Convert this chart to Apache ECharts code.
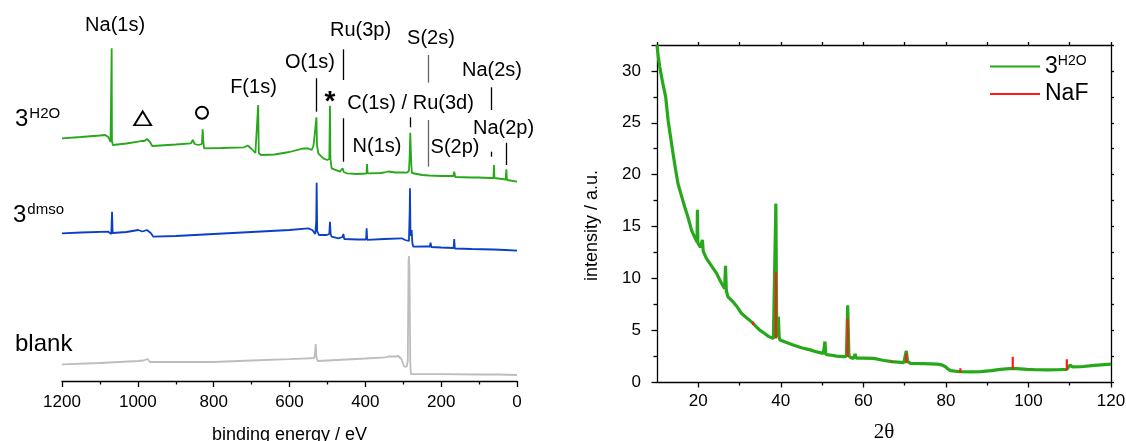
<!DOCTYPE html>
<html><head><meta charset="utf-8">
<script src="https://cdn.jsdelivr.net/npm/echarts@6/dist/echarts.min.js"></script>
<style>html,body{margin:0;padding:0;background:#fff}#c{width:1126px;height:441px}</style>
</head><body><div id="c"></div><script>
// ---------- DATA ----------
// XPS survey spectra: [binding energy (eV), stacked intensity (arb., offset)]
const xpsH2O = [[1200,242.7],[1150,244],[1100,245.5],[1086,246],[1078,244],[1072,239],[1069.6,240],[1069,332.7],[1068.2,240],[1066,236],[1062,236],[1030,237.5],[999,239.3],[992,240],[988,242],[983,240],[976,242],[972.4,243.7],[968,239],[962,235],[900,236.5],[860,237.7],[855,241],[850,237],[840,236],[831,237],[829,251.7],[827,238],[825,232.7],[780,233],[720,233.7],[710,235.5],[700,232],[690,228],[685,227],[682.6,276],[681,228],[675,226],[640,226.5],[600,229],[563.6,232.7],[550,232.5],[541.6,231],[537,235],[535.5,239.3],[532,238],[529,263.7],[527.5,236],[524,227.7],[511,222.7],[500.4,221],[495,222],[493.3,275.3],[492,222],[488.8,212.7],[467,209.3],[462,211],[460,212.7],[457,209],[449.3,207.7],[420,207],[397,207.5],[395.5,217],[394,207.7],[388,207.7],[360,208],[350,208.5],[340,209.5],[320,208.5],[300,208.5],[291,208.3],[285,210],[283,225],[281.5,248.3],[280,230],[278.5,215],[277,208],[273.6,206],[250,206],[232,205.5],[229.6,207],[227,205.5],[200,205],[168,205],[165.6,209.3],[163,204],[120,203.5],[101,203.5],[99.6,205.5],[98,203],[70,203],[62,203],[60.8,216],[59.5,203],[55.5,202.7],[30,201.5],[28,211.7],[26.5,201],[23,200.5],[0,199.3]];
const xpsDmso = [[1200,147.7],[1150,148.5],[1078,149.3],[1070,147],[1068,169.3],[1066.5,148],[1062,147.7],[1030,149],[999,151],[988,149.5],[983,150],[976,151],[972.4,152.7],[966,148],[959,144.3],[900,145],[800,147],[700,149],[600,151],[550.5,152.7],[540,151],[537.3,149.3],[532,147],[529.5,160],[528.4,198.3],[527,150],[522.3,146],[502,146],[495,147],[493.3,159.3],[491.5,147],[488.8,144.3],[471,142.7],[460,144],[458,147],[455.5,142],[453.7,141.7],[420,141.5],[398,141.5],[396.6,152.7],[395,141.2],[392,141],[350,142],[304.3,142.7],[295,141],[291,139],[285,140],[283,170],[282.3,192.7],[281,150],[279.5,145],[277.8,151],[276,138],[273.6,134.3],[240,134.5],[230,134.5],[228,138.3],[226,134],[200,133.5],[167,133],[165.6,142],[164,132.5],[120,132],[62,131.5],[60,133],[58,131],[30,131],[0,130.3]];
const xpsBlank = [[1200,16.7],[1100,18],[999,20],[985,20.5],[974,22],[968,19],[963.5,17],[800,19],[700,20.5],[600,21.8],[550.5,22.7],[535,23],[533,26],[531,37],[529,24],[525.7,20],[450,21.5],[400,22.5],[348,23.7],[340,24.5],[335,23.5],[320,24.5],[313,25],[305,22],[297.4,14.3],[291,14.5],[288,20],[286,120],[285,125],[283.5,110],[281.5,20],[280,7],[200,6.8],[100,6.5],[50,6.5],[0,6]];
// XRD pattern: [2θ, intensity]
const xrdH2O = [[10,32.5],[10.3,31.4],[10.66,30.4],[11.3,29.0],[12.1,27.5],[12.7,25.2],[13.3,23.6],[13.9,22],[14.5,20.5],[15.1,19.1],[15.9,18.0],[16.7,16.9],[17.5,15.9],[18.4,14.6],[19.2,13.9],[19.7,13.5],[19.8,16.6],[19.9,13.4],[20.5,13.0],[20.9,12.9],[21.0,13.7],[21.2,12.6],[22,11.9],[23.2,11.2],[24.4,10.5],[25.4,9.7],[26.4,9.0],[26.6,11.2],[26.8,8.8],[27.2,8.2],[28.5,7.7],[29.5,7.2],[30.5,6.6],[31.7,6.2],[32.9,5.8],[33.9,5.4],[34.9,5.0],[36,4.7],[37,4.4],[38.2,4.2],[38.6,4.3],[38.8,17.2],[39.0,4.6],[39.3,4.4],[39.4,6.3],[39.6,4.3],[39.8,4.05],[41.4,3.8],[43,3.56],[45,3.3],[47.1,3.1],[48.7,2.9],[50.3,2.76],[50.7,3.9],[50.9,2.65],[52,2.6],[53.5,2.5],[55.2,2.44],[55.9,2.5],[56.2,7.4],[56.5,2.5],[57.0,2.35],[57.6,2.28],[58.0,2.7],[58.3,2.3],[60,2.3],[62.5,2.28],[64.7,2.1],[66.9,1.96],[69.8,1.86],[70.2,2.0],[70.4,3.0],[70.7,2.0],[71.4,1.8],[74.5,1.78],[77.9,1.73],[79.0,1.65],[79.9,1.47],[80.5,1.25],[81.1,1.09],[83.5,0.99],[86,0.98],[88.4,1.0],[91,1.1],[93.2,1.22],[96.2,1.32],[99.7,1.22],[102,1.18],[104.6,1.16],[107,1.18],[109.3,1.22],[110.1,1.64],[110.6,1.45],[112.7,1.47],[116,1.6],[120,1.73]];
// NaF reference reflections: [2θ, bottom, top]
const nafPeaks = [[33.3,5.5,5.8],[38.8,4.2,10.6],[56.2,2.4,6.1],[67.0,1.9,2.05],[70.4,1.8,2.76],[83.5,0.9,1.32],[96.2,1.22,2.44],[109.3,1.16,2.19]];
// Tick labels
const xrdMajorTicks = [20,40,60,80,100,120];
const xrdMinorTicks = [30,50,70,90,110];
// Peak assignments: [label, binding energy, level]
const peakLabels = [['Na(1s)',1060,356],['F(1s)',695,293.5],['O(1s)',546,319],['Ru(3p)',412.7,351],['S(2s)',226.8,343],['Na(2s)',66,311],['C(1s) / Ru(3d)',280.9,278],['N(1s)',369.2,235],['S(2p)',163.5,234],['Na(2p)',35.6,253]];
// Marker lines: [binding energy, from, to, grey?]
const peakLines = [[530.1,302.7,269.3,0],[458.1,331.7,301,0],[458.1,262.7,219.3,0],[282.2,263.7,253.7,0],[233,326,298.3,1],[233,261,214.3,1],[66.7,293.7,271,0],[66.7,229.3,224.3,0],[27.2,238.3,216,0]];
// Symbols: [symbol, binding energy, level]
const peakSymbols = [['triangle',987.2,262.7],['circle',830.8,268.3],['star',493.2,286]];

// ---------- CHART ----------
const FONT = 'Liberation Sans';
const GREEN = '#26a81a', BLUE = '#0a3fc6', GREY = '#bdbdbd', RED = '#ff1a1a';
const chart = echarts.init(document.getElementById('c'));
const lineS = {color:'#000', width:1.3};

function sticks(arr){const o=[];arr.forEach(p=>{o.push([p[0],p[1]]);o.push([p[0],p[2]]);o.push(['-','-']);});return o;}

const supRich = {n:{fontSize:24,fontFamily:FONT,color:'#000',lineHeight:26},s:{fontSize:15,fontFamily:FONT,color:'#000',verticalAlign:'top',lineHeight:26,padding:[0,0,0,1]}};

function sampleLabel(pt, text, dx, dy){
  return {data:[{coord:pt, symbol:'circle', symbolSize:0,
    label:{show:true, formatter:text, rich:supRich, position:[dx,dy], align:'left', verticalAlign:'middle'}}],
    silent:true, animation:false};
}

const annPoints = peakLabels.map(a=>({coord:[a[1],a[2]], symbol:'circle', symbolSize:0,
  label:{show:true, formatter:a[0], position:'inside', fontSize:20, fontFamily:FONT, color:'#000'}}));
peakSymbols.forEach(s=>{
  if (s[0]==='triangle') annPoints.push({coord:[s[1],s[2]], symbol:'triangle', symbolSize:[17,14], itemStyle:{color:'transparent', borderColor:'#000', borderWidth:1.8}, label:{show:false}});
  else if (s[0]==='circle') annPoints.push({coord:[s[1],s[2]], symbol:'circle', symbolSize:12, itemStyle:{color:'transparent', borderColor:'#000', borderWidth:2}, label:{show:false}});
  else annPoints.push({coord:[s[1],s[2]], symbol:'circle', symbolSize:0, label:{show:true, formatter:'*', position:'inside', fontSize:28, fontWeight:'bold', fontFamily:FONT, color:'#000', offset:[0,7]}});
});
annPoints.push({coord:xpsH2O[0], symbol:'circle', symbolSize:0,
  label:{show:true, formatter:'{n|3}{s|H2O}', rich:supRich, position:[-47,-19], align:'left', verticalAlign:'middle'}});

const annLines = peakLines.map(l=>[{coord:[l[0],l[1]], lineStyle:{color:l[3]?'#666':'#000', width:1.3, type:'solid'}},{coord:[l[0],l[2]]}]);

const option = {
  animation:false,
  textStyle:{fontFamily:FONT, color:'#000'},
  grid:[{left:62,right:609,top:0,bottom:60,containLabel:false,outerBoundsMode:'none'},{left:657,right:15,top:45,bottom:59,containLabel:false,outerBoundsMode:'none'}],
  legend:{show:true, data:['3H2O','NaF'], left:985, top:49, orient:'vertical', itemWidth:50, itemHeight:14, itemGap:4.6,
    icon:'path://M0,0 L50,0 L50,2 L0,2 Z',
    formatter:function(n){return n==='3H2O'?'{n|3}{s|H2O}':'{n|NaF}';},
    textStyle:{fontSize:23, color:'#000', rich:{n:{fontSize:23,fontFamily:FONT,color:'#000',lineHeight:25},s:{fontSize:14,fontFamily:FONT,color:'#000',verticalAlign:'top',lineHeight:25}}}},
  xAxis:[
    {gridIndex:0, type:'value', min:0, max:1200, interval:200, inverse:true,
      axisLine:{show:true,onZero:false,lineStyle:lineS}, axisTick:{show:true,length:6,lineStyle:lineS},
      minorTick:{show:true,splitNumber:2,length:3.5,lineStyle:lineS},
      axisLabel:{fontSize:17,margin:13,color:'#000',fontFamily:FONT,formatter:function(v){return String(v);}}, splitLine:{show:false}, minorSplitLine:{show:false},
      name:'binding energy / eV', nameLocation:'middle', nameGap:45, nameTextStyle:{fontSize:18,fontFamily:FONT,color:'#000'}},
    {gridIndex:1, type:'value', min:10, max:120, position:'bottom',
      axisLine:{show:true,onZero:false,lineStyle:lineS}, axisTick:{show:true,length:5.5,lineStyle:lineS,customValues:xrdMajorTicks},
      axisLabel:{fontSize:17,margin:11,color:'#000',fontFamily:FONT,customValues:xrdMajorTicks}, splitLine:{show:false},
      name:'2θ', nameLocation:'middle', nameGap:40, nameTextStyle:{fontSize:21,fontFamily:'Liberation Serif',color:'#000'}},
    {gridIndex:1, type:'value', min:10, max:120, position:'bottom',
      axisLine:{show:false,onZero:false}, axisTick:{show:true,length:3.5,lineStyle:lineS,customValues:xrdMinorTicks},
      axisLabel:{show:false}, splitLine:{show:false}},
    {gridIndex:1, type:'value', min:10, max:120, interval:10, position:'top',
      axisLine:{show:true,onZero:false,lineStyle:lineS}, axisTick:{show:true,length:3,lineStyle:lineS},
      axisLabel:{show:false}, splitLine:{show:false}}
  ],
  yAxis:[
    {gridIndex:0, type:'value', min:0, max:381, show:false},
    {gridIndex:1, type:'value', min:0, max:32.5, interval:5, position:'left',
      axisLine:{show:true,onZero:false,lineStyle:lineS}, axisTick:{show:true,length:5.5,lineStyle:lineS},
      minorTick:{show:true,splitNumber:2,length:3.5,lineStyle:lineS},
      axisLabel:{fontSize:17,margin:16,color:'#000',fontFamily:FONT,showMaxLabel:false}, splitLine:{show:false}, minorSplitLine:{show:false},
      name:'intensity / a.u.', nameLocation:'middle', nameGap:56, nameTextStyle:{fontSize:18,fontFamily:FONT,color:'#000',padding:[0,24,0,0]}},
    {gridIndex:1, type:'value', min:0, max:32.5, interval:2.5, position:'right',
      axisLine:{show:true,onZero:false,lineStyle:lineS}, axisTick:{show:true,length:3,lineStyle:lineS},
      axisLabel:{show:false}, splitLine:{show:false}}
  ],
  series:[
    {name:'xpsH2O', type:'line', xAxisIndex:0, yAxisIndex:0, data:xpsH2O, symbol:'none', lineStyle:{color:GREEN,width:1.8}, itemStyle:{color:GREEN}, silent:true,
      markPoint:{data:annPoints, silent:true, animation:false},
      markLine:{data:annLines, symbol:['none','none'], label:{show:false}, silent:true, animation:false}},
    {name:'xpsDmso', type:'line', xAxisIndex:0, yAxisIndex:0, data:xpsDmso, symbol:'none', lineStyle:{color:BLUE,width:1.8}, itemStyle:{color:BLUE}, silent:true,
      markPoint:sampleLabel(xpsDmso[0], '{n|3}{s|dmso}', -49, -18)},
    {name:'xpsBlank', type:'line', xAxisIndex:0, yAxisIndex:0, data:xpsBlank, symbol:'none', lineStyle:{color:GREY,width:1.8}, itemStyle:{color:GREY}, silent:true,
      markPoint:sampleLabel(xpsBlank[0], '{n|blank}', -47, -20)},
    {name:'3H2O', type:'line', xAxisIndex:1, yAxisIndex:1, data:xrdH2O, symbol:'none', lineStyle:{color:GREEN,width:3.2}, itemStyle:{color:GREEN}, silent:true},
    {name:'NaF', type:'line', xAxisIndex:1, yAxisIndex:1, data:sticks(nafPeaks), symbol:'none', connectNulls:false, lineStyle:{color:RED,width:2.2}, itemStyle:{color:RED}, silent:true}
  ]
};
chart.setOption(option);
</script></body></html>
